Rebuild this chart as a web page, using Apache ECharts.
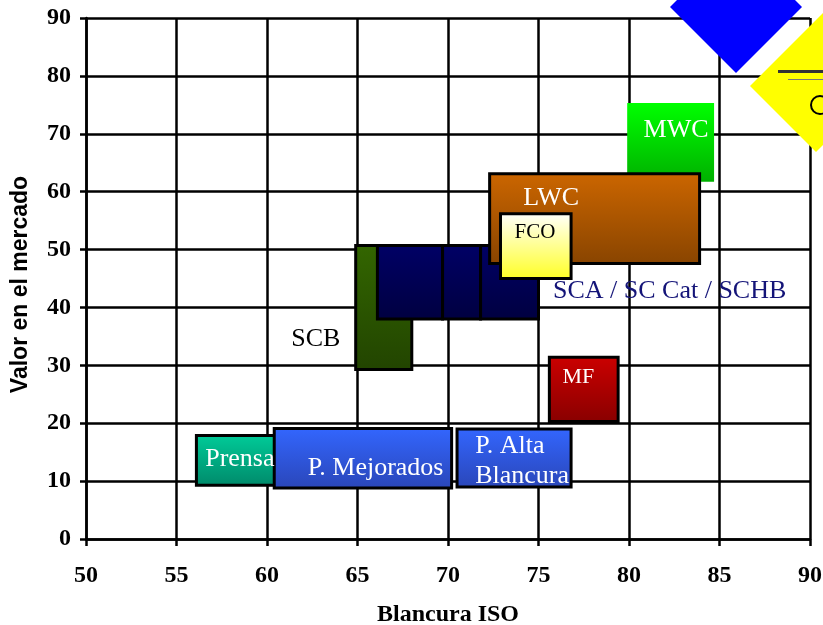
<!DOCTYPE html>
<html>
<head>
<meta charset="utf-8">
<script src="https://cdn.jsdelivr.net/npm/echarts@6/dist/echarts.min.js"></script>
<style>
  html, body { margin: 0; padding: 0; background: #fff; }
  #chart { width: 823px; height: 625px; }
</style>
</head>
<body>
<div id="chart"></div>
<script>
  // boxes: blancura ISO range (x0..x1) and valor en el mercado range (y0..y1)
  const boxNames = ['Prensa', 'P. Mejorados', 'P. Alta Blancura', 'MF', 'SCB', 'SCA', 'SC Cat', 'SCHB', 'MWC', 'LWC', 'FCO'];
  const boxX0 = [56.1, 60.4, 70.5, 75.6, 64.9, 66.1, 69.7, 71.8, 79.9, 72.3, 72.9];
  const boxX1 = [60.5, 70.2, 76.8, 79.4, 68.0, 69.7, 71.8, 75.0, 84.7, 83.9, 76.8];
  const boxY0 = [9.3, 8.8, 9.0, 20.3, 29.3, 38.0, 38.0, 38.0, 61.7, 47.6, 45.0];
  const boxY1 = [17.9, 19.1, 19.0, 31.4, 50.7, 50.7, 50.7, 50.7, 75.3, 63.1, 56.2];

  // text labels and where they sit
  const labelTexts = ['Prensa', 'P. Mejorados', 'P. Alta\nBlancura', 'MF', 'SCB', 'SCA / SC Cat / SCHB', 'MWC', 'LWC', 'FCO'];
  const labelX = [58.5, 66.0, 71.5, 77.2, 62.7, 75.8, 82.6, 75.7, 74.8];
  const labelY = [13.8, 12.2, 13.4, 27.9, 34.5, 42.8, 70.7, 58.8, 52.9];

  const xTicks = [50, 55, 60, 65, 70, 75, 80, 85, 90];
  const yTicks = [0, 10, 20, 30, 40, 50, 60, 70, 80, 90];

  const fills = [
    ['#00cc99', '#00896a'],
    ['#3366ff', '#2a46b8'],
    ['#3366ff', '#2a46b8'],
    ['#cc0000', '#880000'],
    ['#336600', '#224400'],
    ['#000066', '#000040'],
    ['#000066', '#000040'],
    ['#000066', '#000040'],
    ['#00ff00', '#00b000'],
    ['#cc6600', '#884400'],
    ['#ffffff', '#ffff22']
  ];
  const noBorder = { 'MWC': true };

  const labelLook = {
    'Prensa': { color: '#fff', size: 26, align: 'center' },
    'P. Mejorados': { color: '#fff', size: 26, align: 'center' },
    'P. Alta\nBlancura': { color: '#fff', size: 26, align: 'left' },
    'MF': { color: '#fff', size: 22, align: 'center' },
    'SCB': { color: '#000', size: 26, align: 'center' },
    'SCA / SC Cat / SCHB': { color: '#141478', size: 26, align: 'left' },
    'MWC': { color: '#fff', size: 26, align: 'center' },
    'LWC': { color: '#fff', size: 26, align: 'center' },
    'FCO': { color: '#000', size: 21, align: 'center' }
  };

  const boxData = boxNames.map((n, i) => [boxX0[i], boxX1[i], boxY0[i], boxY1[i], i]);

  const serif = 'Liberation Serif, Times New Roman, serif';

  const labelData = labelTexts.map((t, i) => {
    const lk = labelLook[t];
    return {
      value: [labelX[i], labelY[i]],
      name: t,
      label: {
        show: true,
        position: 'inside',
        formatter: t,
        color: lk.color,
        opacity: 1,
        fontSize: lk.size,
        align: lk.align,
        lineHeight: 30,
        fontFamily: serif
      }
    };
  });

  const option = {
    animation: false,
    backgroundColor: '#fff',
    grid: { left: 86, right: 13, top: 18, bottom: 86, containLabel: false, outerBoundsMode: 'none' },
    xAxis: {
      type: 'value',
      min: 50, max: 90, interval: 5,
      name: 'Blancura ISO',
      nameLocation: 'middle',
      nameGap: 64,
      nameTextStyle: { fontFamily: serif, fontWeight: 'bold', fontSize: 24, color: '#000' },
      axisLine: { show: true, lineStyle: { color: '#000', width: 2.5 } },
      axisTick: { show: true, length: 7, lineStyle: { color: '#000', width: 2.5 } },
      axisLabel: { fontFamily: serif, fontWeight: 'bold', fontSize: 24, color: '#000', margin: 25,
        formatter: v => xTicks.indexOf(v) >= 0 ? String(v) : '' },
      splitLine: { show: true, lineStyle: { color: '#000', width: 2.5 } }
    },
    yAxis: {
      type: 'value',
      min: 0, max: 90, interval: 10,
      name: 'Valor en el mercado',
      nameLocation: 'middle',
      nameGap: 54,
      nameTextStyle: { fontFamily: 'Liberation Sans, Arial, sans-serif', fontWeight: 'bold', fontSize: 23, color: '#000',
        padding: [0, 12, 0, 0] },
      axisLine: { show: true, lineStyle: { color: '#000', width: 2.5 } },
      axisTick: { show: true, length: 6, lineStyle: { color: '#000', width: 2.5 } },
      axisLabel: { fontFamily: serif, fontWeight: 'bold', fontSize: 24, color: '#000', margin: 15,
        formatter: v => yTicks.indexOf(v) >= 0 ? String(v) : '' },
      splitLine: { show: true, lineStyle: { color: '#000', width: 2.5 } }
    },
    graphic: [
      // logo in the top right corner
      { type: 'polygon', z: 1, shape: { points: [[670, 7], [736, -59], [802, 7], [736, 73]] }, style: { fill: '#0000ff' } },
      { type: 'polygon', z: 1, shape: { points: [[750, 86], [836, 0], [902, 66], [816, 152]] }, style: { fill: '#ffff00' } },
      { type: 'rect', z: 2, shape: { x: 778, y: 70, width: 45, height: 3 }, style: { fill: '#333' } },
      { type: 'rect', z: 2, shape: { x: 788, y: 79, width: 35, height: 1 }, style: { fill: '#777' } },
      { type: 'circle', z: 2, shape: { cx: 820, cy: 105, r: 9 }, style: { fill: '#ffff00', stroke: '#000', lineWidth: 2 } }
    ],
    series: [
      {
        type: 'custom',
        z: 3,
        data: boxData,
        encode: { x: [0, 1], y: [2, 3] },
        renderItem: function (params, api) {
          const i = api.value(4);
          const p0 = api.coord([api.value(0), api.value(3)]);
          const p1 = api.coord([api.value(1), api.value(2)]);
          const name = boxNames[i];
          const f = fills[i];
          const bordered = !noBorder[name];
          return {
            type: 'rect',
            shape: { x: p0[0], y: p0[1], width: p1[0] - p0[0], height: p1[1] - p0[1] },
            style: {
              fill: new echarts.graphic.LinearGradient(0, 0, 0, 1, [
                { offset: 0, color: f[0] },
                { offset: 1, color: f[1] }
              ]),
              stroke: bordered ? '#000' : null,
              lineWidth: bordered ? 3 : 0
            }
          };
        }
      },
      {
        type: 'scatter',
        z: 5,
        symbolSize: 0,
        itemStyle: { opacity: 1 },
        data: labelData,
        silent: true
      }
    ]
  };

  const chart = echarts.init(document.getElementById('chart'));
  chart.setOption(option);
</script>
</body>
</html>
